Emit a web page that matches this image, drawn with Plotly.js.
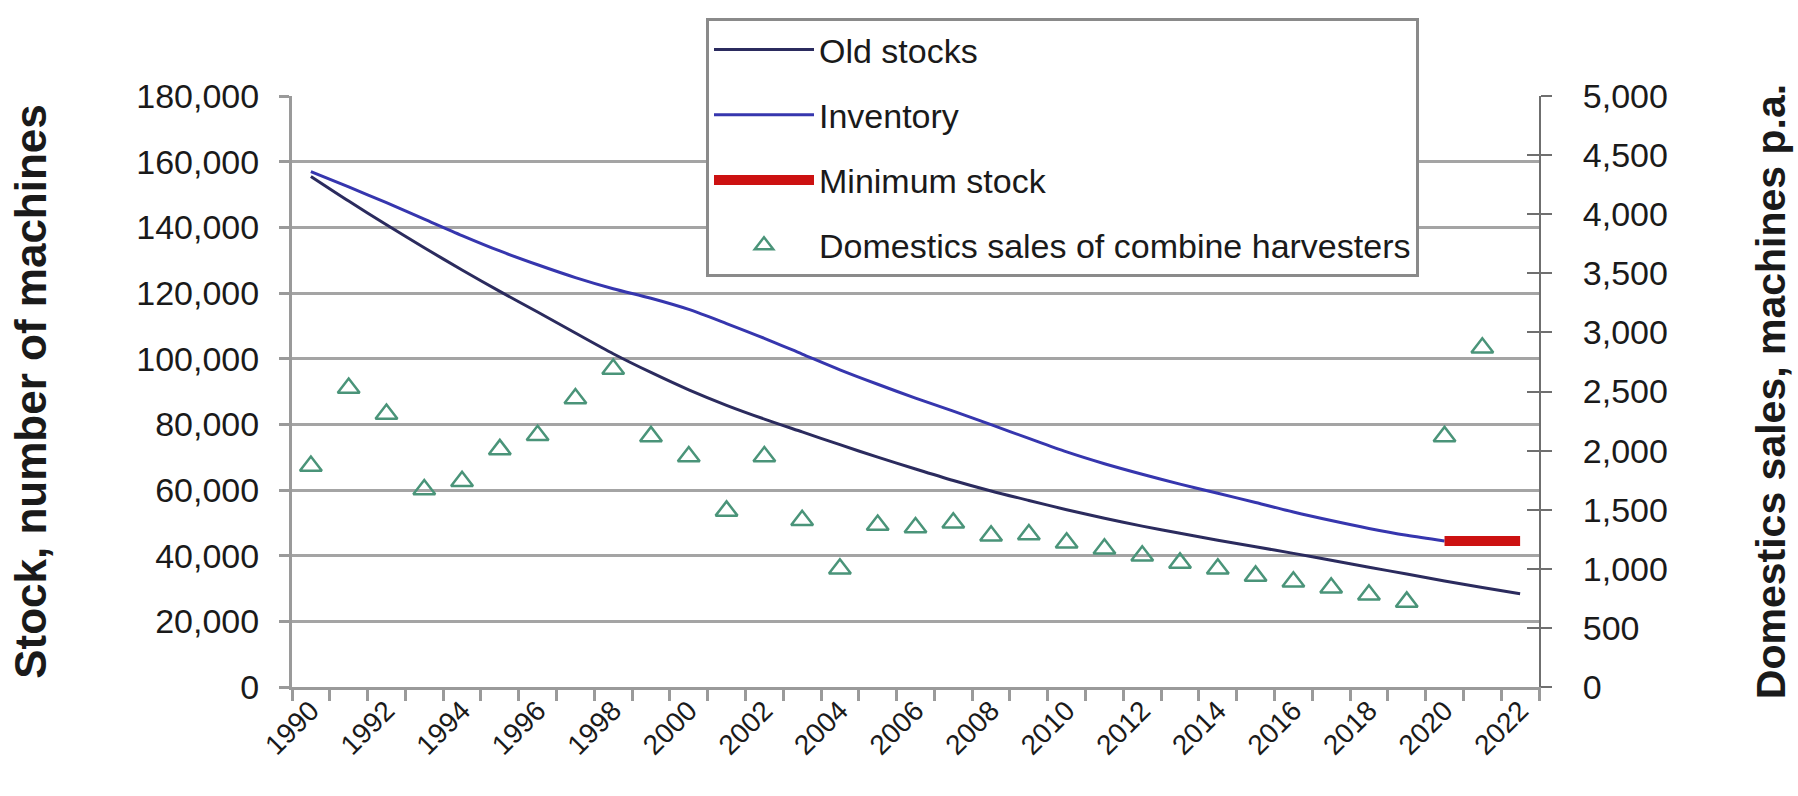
<!DOCTYPE html>
<html>
<head>
<meta charset="utf-8">
<script src="https://cdn.plot.ly/plotly-3.0.1.min.js"></script>
<style>
  html, body { margin: 0; padding: 0; background: #ffffff; }
  #chart { width: 1798px; height: 796px; }
</style>
</head>
<body>
<div id="chart"></div>
<script>
// ---- data ----
const years = [1990,1991,1992,1993,1994,1995,1996,1997,1998,1999,2000,2001,2002,2003,2004,2005,2006,2007,2008,2009,2010,2011,2012,2013,2014,2015,2016,2017,2018,2019,2020,2021,2022];

const oldStocks = [155500,148000,140800,133800,127000,120500,114200,107800,101500,95800,90500,85800,81600,77700,73800,70000,66400,62900,59700,56800,54000,51400,49000,46800,44700,42700,40700,38600,36500,34400,32300,30300,28400];

const inventory = [157000,152300,147500,142500,137500,132800,128600,124700,121300,118400,115000,110700,106200,101400,96600,92200,88000,84000,79900,75700,71600,68000,64800,61800,59000,56200,53300,50700,48300,46200,44500,null,null];

const minimumStock = [null,null,null,null,null,null,null,null,null,null,null,null,null,null,null,null,null,null,null,null,null,null,null,null,null,null,null,null,null,null,44500,44500,44500];

const domesticSales = [1870,2530,2310,1670,1740,2010,2130,2440,2690,2120,1950,1490,1950,1410,1000,1370,1350,1390,1280,1290,1220,1170,1110,1050,1000,940,890,840,780,720,2120,2870,null];

const labelYears = years.filter(y => y % 2 === 0);
const tickLabels = labelYears.map(String);
const boundaries = years.map(y => y - 0.5).concat([years[years.length - 1] + 0.5]);

const FONT = 'Liberation Sans, Arial, sans-serif';
const TXT = '#1a1a1a';

const traces = [
  {
    name: 'Old stocks', x: years, y: oldStocks, type: 'scatter', mode: 'lines',
    line: { color: '#2b2b5e', width: 3, shape: 'spline', smoothing: 0.8 }, legendgroup: 'a', yaxis: 'y'
  },
  {
    name: 'Inventory', x: years, y: inventory, type: 'scatter', mode: 'lines',
    line: { color: '#3636ae', width: 3, shape: 'spline', smoothing: 0.8 }, legendgroup: 'b', yaxis: 'y'
  },
  {
    name: 'Minimum stock', x: years, y: minimumStock, type: 'scatter', mode: 'lines',
    line: { color: '#cc1111', width: 10 }, legendgroup: 'c', yaxis: 'y'
  },
  {
    name: 'Domestics sales of combine harvesters', x: years, y: domesticSales,
    type: 'scatter', mode: 'markers', yaxis: 'y2', legendgroup: 'd',
    marker: { symbol: 'triangle-up-open', size: 19, color: '#4a9479', line: { width: 2.5, color: '#4a9479' } }
  },
  {
    x: [years[0]], y: [0], yaxis: 'y3', type: 'scatter', mode: 'markers',
    marker: { opacity: 0 }, showlegend: false, hoverinfo: 'skip'
  }
];

const layout = {
  width: 1798, height: 796,
  paper_bgcolor: '#ffffff', plot_bgcolor: '#ffffff',
  margin: { l: 292, r: 259, t: 96, b: 109, autoexpand: false },
  font: { family: FONT, color: TXT },
  showlegend: true,
  legend: {
    x: 0.332, xanchor: 'left', y: 1.132, yanchor: 'top',
    bgcolor: '#ffffff', bordercolor: '#8a8a8a', borderwidth: 3,
    font: { family: FONT, size: 34, color: TXT },
    traceorder: 'grouped', tracegroupgap: 18, itemwidth: 100
  },
  xaxis: {
    range: [1989.5, 2022.5], type: 'linear',
    tickmode: 'array', tickvals: labelYears, ticktext: tickLabels,
    ticks: '', tickangle: -45, ticklabelstandoff: -7,
    tickfont: { family: FONT, size: 28, color: TXT },
    showline: true, linecolor: '#9a9a9a', linewidth: 3,
    showgrid: false, zeroline: false,
    minor: { tickmode: 'array', tickvals: boundaries, ticks: 'outside', ticklen: 11, tickwidth: 3, tickcolor: '#9a9a9a', showgrid: false }
  },
  yaxis: {
    range: [0, 180000], tickmode: 'linear', tick0: 0, dtick: 20000, tickformat: ',d',
    ticks: 'outside', ticklen: 10, tickwidth: 3, tickcolor: '#9a9a9a',
    ticklabelstandoff: 13,
    tickfont: { family: FONT, size: 34, color: TXT },
    showline: true, linecolor: '#9a9a9a', linewidth: 3,
    showgrid: true, gridcolor: '#a4a4a4', gridwidth: 3, zeroline: false,
    title: { text: 'Stock, number of machines', font: { family: FONT, size: 44, color: TXT, weight: 'bold' }, standoff: 76 }
  },
  yaxis2: {
    overlaying: 'y', side: 'right',
    range: [0, 5000], tickmode: 'linear', tick0: 0, dtick: 500, tickformat: ',d',
    ticks: 'outside', ticklen: 11, tickwidth: 2, tickcolor: '#6f6f6f',
    ticklabelstandoff: 24,
    tickfont: { family: FONT, size: 34, color: TXT },
    showline: true, linecolor: '#6f6f6f', linewidth: 2,
    showgrid: false, zeroline: false,
    title: { text: 'Domestics sales, machines p.a.', font: { family: FONT, size: 41, color: TXT, weight: 'bold' }, standoff: 89 }
  },
  yaxis3: {
    overlaying: 'y', side: 'right', anchor: 'x',
    range: [0, 5000], tickmode: 'linear', tick0: 0, dtick: 500,
    ticks: 'inside', ticklen: 12, tickwidth: 2, tickcolor: '#6f6f6f',
    showticklabels: false, showline: false, showgrid: false, zeroline: false
  }
};

Plotly.newPlot('chart', traces, layout, { staticPlot: true, displayModeBar: false });
</script>
</body>
</html>
